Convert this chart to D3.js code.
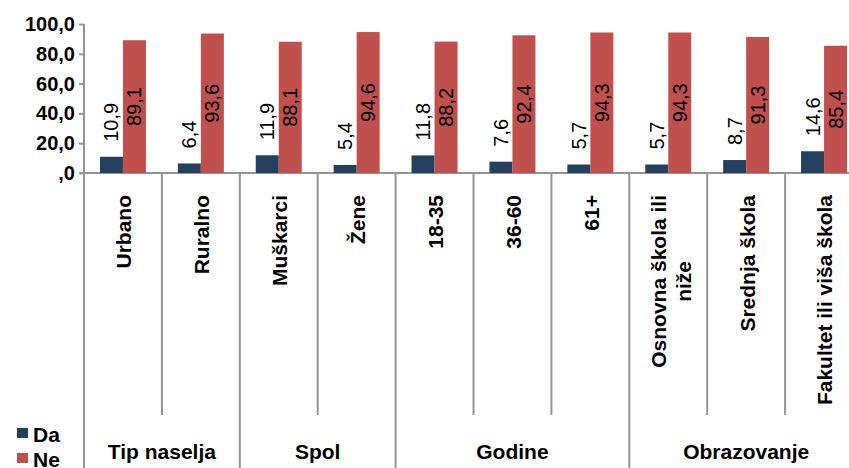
<!DOCTYPE html>
<html>
<head>
<meta charset="utf-8">
<script src="https://cdn.jsdelivr.net/npm/d3@7"></script>
<style>
  html, body { margin: 0; padding: 0; background: #fff; }
  svg { display: block; font-family: "Liberation Sans", Arial, sans-serif; }
</style>
</head>
<body>
<script>
const categories = ["Urbano", "Ruralno", "Muškarci", "Žene", "18-35", "36-60", "61+", "Osnovna škola ili\nniže", "Srednja škola", "Fakultet ili viša škola"];
const daValues = [10.9, 6.4, 11.9, 5.4, 11.8, 7.6, 5.7, 5.7, 8.7, 14.6];
const neValues = [89.1, 93.6, 88.1, 94.6, 88.2, 92.4, 94.3, 94.3, 91.3, 85.4];
const groupNames = ["Tip naselja", "Spol", "Godine", "Obrazovanje"];
const groupSizes = [2, 2, 3, 3];
const yTickValues = [0, 20, 40, 60, 80, 100];
const yTickLabels = [",0", "20,0", "40,0", "60,0", "80,0", "100,0"];
const seriesNames = ["Da", "Ne"];
const seriesColors = ["#25405f", "#c0504d"];

const W = 849, H = 468;
const svg = d3.select("body").append("svg").attr("width", W).attr("height", H);

const x = d3.scaleBand().domain(d3.range(categories.length)).range([84, 863]).padding(0);
const y = d3.scaleLinear().domain([0, 100]).range([173, 24]);
const lineColor = "#949494";
const fmt = v => v.toFixed(1).replace(".", ",");
const barW = 23;

// group boundary indices
const bounds = [0];
groupSizes.forEach(s => bounds.push(bounds[bounds.length - 1] + s));
const boundX = i => (i < categories.length ? x(i) : x(categories.length - 1) + x.bandwidth());

// vertical category separators
const grid = svg.append("g");
for (let i = 1; i <= categories.length; i++) {
  const isGroup = bounds.includes(i);
  grid.append("line")
    .attr("x1", boundX(i)).attr("x2", boundX(i))
    .attr("y1", y(0)).attr("y2", isGroup ? H : 415)
    .attr("stroke", lineColor).attr("stroke-width", 2);
}

// y axis
const yAxis = d3.axisLeft(y).tickValues(yTickValues).tickSize(5)
  .tickFormat((d, i) => yTickLabels[i]);
const ya = svg.append("g").attr("transform", `translate(${x(0)},0)`).call(yAxis);
ya.select(".domain").remove();
ya.selectAll(".tick line").attr("stroke", lineColor).attr("stroke-width", 2);
ya.selectAll(".tick text")
  .attr("x", -9).attr("fill", "#000")
  .style("font-size", "20px").style("font-weight", "bold")
  .style("font-family", "'Liberation Sans', Arial, sans-serif");
svg.append("line").attr("x1", x(0)).attr("x2", x(0)).attr("y1", y(100)).attr("y2", H)
  .attr("stroke", lineColor).attr("stroke-width", 2);
svg.append("line").attr("x1", x(0) - 5).attr("x2", W).attr("y1", y(0)).attr("y2", y(0))
  .attr("stroke", lineColor).attr("stroke-width", 2);

// bars
const bars = svg.append("g");
bars.selectAll("rect.da").data(daValues).join("rect")
  .attr("x", (d, i) => x(i) + x.bandwidth() / 2 - barW)
  .attr("y", d => y(d)).attr("width", barW).attr("height", d => y(0) - y(d))
  .attr("fill", seriesColors[0]);
bars.selectAll("rect.ne").data(neValues).join("rect")
  .attr("x", (d, i) => x(i) + x.bandwidth() / 2)
  .attr("y", d => y(d)).attr("width", barW).attr("height", d => y(0) - y(d))
  .attr("fill", seriesColors[1]);

// data labels
const lab = svg.append("g").style("font-size", "20px").attr("fill", "#000");
daValues.forEach((v, i) => {
  const cx = x(i) + x.bandwidth() / 2 - barW / 2;
  const yy = y(v) - 15;
  lab.append("text").attr("transform", `translate(${cx},${yy}) rotate(-90)`)
    .attr("dy", "0.35em").attr("text-anchor", "start").text(fmt(v));
});
neValues.forEach((v, i) => {
  const cx = x(i) + x.bandwidth() / 2 + barW / 2;
  const yy = y(v / 2);
  lab.append("text").attr("transform", `translate(${cx},${yy}) rotate(-90)`)
    .attr("dy", "0.35em").attr("text-anchor", "middle").text(fmt(v));
});

// category labels
const cl = svg.append("g").style("font-size", "21px").style("font-weight", "bold").attr("fill", "#000");
categories.forEach((c, i) => {
  const cx = x(i) + x.bandwidth() / 2;
  const lines = c.split("\n");
  if (lines.length === 1) {
    cl.append("text").attr("transform", `translate(${cx + 1},195) rotate(-90)`)
      .attr("dy", "0.35em").attr("text-anchor", "end").text(c);
  } else {
    const tmp = cl.append("text").text(lines[0]);
    const L = tmp.node().getComputedTextLength();
    tmp.remove();
    const mid = 195 + L / 2;
    lines.forEach((ln, k) => {
      cl.append("text").attr("transform", `translate(${cx - 2 + k * 25},${mid}) rotate(-90)`)
        .attr("text-anchor", "middle").text(ln);
    });
  }
});

// group labels
const gl = svg.append("g").style("font-size", "21px").style("font-weight", "bold").attr("fill", "#000");
groupNames.forEach((g, k) => {
  const x0 = boundX(bounds[k]), x1 = boundX(bounds[k + 1]);
  gl.append("text").attr("x", (x0 + x1) / 2).attr("y", 459).attr("text-anchor", "middle").text(g);
});

// legend
const lg = svg.append("g").style("font-size", "21px").style("font-weight", "bold");
seriesNames.forEach((s, k) => {
  lg.append("rect").attr("x", 17).attr("y", 428 + k * 25).attr("width", 11).attr("height", 10).attr("fill", seriesColors[k]);
  lg.append("text").attr("x", 33).attr("y", 442 + k * 25).attr("fill", "#000").text(s);
});
</script>
</body>
</html>
